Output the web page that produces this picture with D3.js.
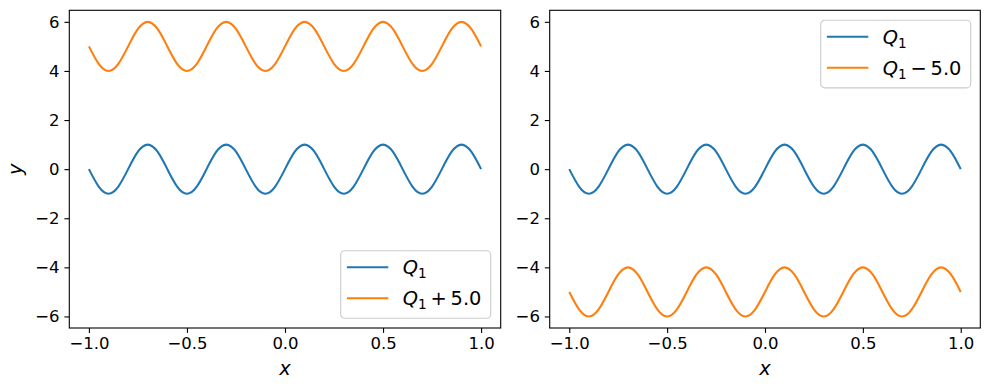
<!DOCTYPE html>
<html>
<head>
<meta charset="utf-8">
<script src="https://cdn.jsdelivr.net/npm/d3@7"></script>
<style>
  body { margin: 0; background: #fff; }
  text { font-family: "DejaVu Sans", sans-serif; fill: #000; }
</style>
</head>
<body>
<script>
// sample points (x step 0.05)
var xValues = [-1.0, -0.95, -0.9, -0.85, -0.8, -0.75, -0.7, -0.65, -0.6, -0.55,
    -0.5, -0.45, -0.4, -0.35, -0.3, -0.25, -0.2, -0.15, -0.1, -0.05,
    0.0, 0.05, 0.1, 0.15, 0.2, 0.25, 0.3, 0.35, 0.4, 0.45,
    0.5, 0.55, 0.6, 0.65, 0.7, 0.75, 0.8, 0.85, 0.9, 0.95, 1.0];

var q1Values = [0, -0.71, -1, -0.71, 0, 0.71, 1, 0.71,
    0, -0.71, -1, -0.71, 0, 0.71, 1, 0.71,
    0, -0.71, -1, -0.71, 0, 0.71, 1, 0.71,
    0, -0.71, -1, -0.71, 0, 0.71, 1, 0.71,
    0, -0.71, -1, -0.71, 0, 0.71, 1, 0.71, 0];

var q1Plus5 = [5, 4.29, 4, 4.29, 5, 5.71, 6, 5.71,
    5, 4.29, 4, 4.29, 5, 5.71, 6, 5.71,
    5, 4.29, 4, 4.29, 5, 5.71, 6, 5.71,
    5, 4.29, 4, 4.29, 5, 5.71, 6, 5.71,
    5, 4.29, 4, 4.29, 5, 5.71, 6, 5.71, 5];

var q1Minus5 = [-5, -5.71, -6, -5.71, -5, -4.29, -4, -4.29,
    -5, -5.71, -6, -5.71, -5, -4.29, -4, -4.29,
    -5, -5.71, -6, -5.71, -5, -4.29, -4, -4.29,
    -5, -5.71, -6, -5.71, -5, -4.29, -4, -4.29,
    -5, -5.71, -6, -5.71, -5, -4.29, -4, -4.29, -5];

var xTicks = [-1.0, -0.5, 0.0, 0.5, 1.0];
var yTicks = [-6, -4, -2, 0, 2, 4, 6];
var colors = ["#1f77b4", "#ff7f0e"];

var width = 990, height = 390;
var plotTop = 10.3, plotBottom = 328;

var svg = d3.select("body").append("svg")
    .attr("width", width)
    .attr("height", height)
    .style("background", "#fff");

function drawPanel(left, right, series, legend, showYLabel) {
    var xScale = d3.scaleLinear().domain([-1.1, 1.1]).range([left, right]);
    var yScale = d3.scaleLinear().domain([-6.47, 6.47]).range([plotBottom, plotTop]);
    var g = svg.append("g");

    // lines
    var line = d3.line()
        .x(function(d) { return xScale(d[0]); })
        .y(function(d) { return yScale(d[1]); })
        .curve(d3.curveNatural);

    series.forEach(function(s, i) {
        g.append("path")
            .datum(d3.zip(xValues, s.values))
            .attr("d", line)
            .attr("fill", "none")
            .attr("stroke", colors[i])
            .attr("stroke-width", 2.1);
    });

    // axes
    var xAxis = g.append("g")
        .attr("transform", "translate(0," + plotBottom + ")")
        .call(d3.axisBottom(xScale).tickValues(xTicks).tickFormat(d3.format(".1f"))
            .tickSize(4.9).tickPadding(3.4));
    var yAxis = g.append("g")
        .attr("transform", "translate(" + left + ",0)")
        .call(d3.axisLeft(yScale).tickValues(yTicks).tickFormat(d3.format("d"))
            .tickSize(4.9).tickPadding(4.9));
    [xAxis, yAxis].forEach(function(a) {
        a.select(".domain").remove();
        a.selectAll("line").attr("stroke", "#000").attr("stroke-width", 1.1);
        a.selectAll("text")
            .attr("font-family", "DejaVu Sans")
            .attr("font-size", 16.5)
            .attr("fill", "#000");
    });
    xAxis.selectAll("text").attr("dy", "0.74em");

    g.append("rect")
        .attr("x", left).attr("y", plotTop)
        .attr("width", right - left).attr("height", plotBottom - plotTop)
        .attr("fill", "none")
        .attr("stroke", "#000")
        .attr("stroke-width", 1.1);

    // axis labels
    g.append("text")
        .attr("x", (left + right) / 2)
        .attr("y", 375)
        .attr("text-anchor", "middle")
        .attr("font-size", 19.4)
        .attr("font-style", "italic")
        .text("x");
    if (showYLabel) {
        g.append("text")
            .attr("transform", "translate(22.3," + (plotTop + plotBottom) / 2 + ") rotate(-90)")
            .attr("text-anchor", "middle")
            .attr("font-size", 19.4)
            .attr("font-style", "italic")
            .text("y");
    }

    // legend
    var lg = g.append("g").attr("transform", "translate(" + legend.x + "," + legend.y + ")");
    lg.append("rect")
        .attr("width", 150).attr("height", 67.6)
        .attr("rx", 4).attr("ry", 4)
        .attr("fill", "#fff").attr("fill-opacity", 0.8)
        .attr("stroke", "#cccccc").attr("stroke-width", 1.1);
    series.forEach(function(s, i) {
        var ly = 16.5 + i * 31;
        lg.append("line")
            .attr("x1", 6.2).attr("x2", 47.6)
            .attr("y1", ly).attr("y2", ly)
            .attr("stroke", colors[i]).attr("stroke-width", 2.1);
        var t = lg.append("text")
            .attr("x", 62)
            .attr("y", ly + 7)
            .attr("font-size", 19.4);
        t.append("tspan").attr("font-style", "italic").text("Q");
        t.append("tspan").attr("font-size", 13.6).attr("dy", 4).text("1");
        if (s.op) {
            t.append("tspan").attr("dy", -4).text("\u2009" + s.op + "\u2009" + s.num);
        }
    });
}

drawPanel(69.3, 500.7,
    [{ values: q1Values }, { values: q1Plus5, op: "+", num: "5.0" }],
    { x: 340.7, y: 250.7 }, true);

drawPanel(549.7, 980.3,
    [{ values: q1Values }, { values: q1Minus5, op: "\u2212", num: "5.0" }],
    { x: 820.7, y: 20.3 }, false);
</script>
</body>
</html>
